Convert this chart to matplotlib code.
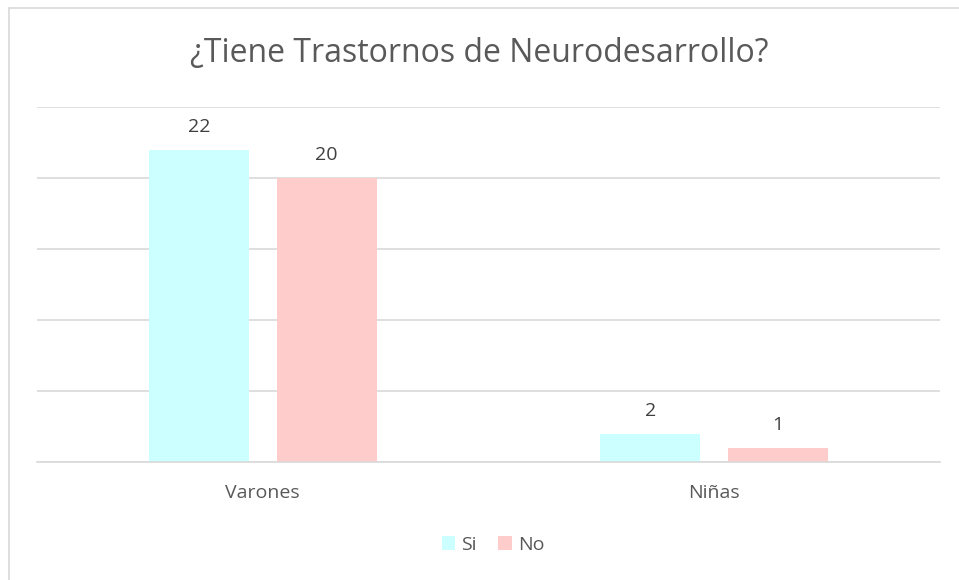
import matplotlib.pyplot as plt
import numpy as np
from matplotlib.lines import Line2D

categories = ["Varones", "Niñas"]
si_values = [22, 2]
no_values = [20, 1]
series_names = ["Si", "No"]
colors = ["#CCFFFF", "#FFCCCC"]

plt.rcParams['font.family'] = ['Open Sans', 'DejaVu Sans']

fig = plt.figure(figsize=(9.59, 5.80), dpi=100)
ax = fig.add_axes([37 / 959, 1 - 462 / 580, (940 - 37) / 959, (462 - 107) / 580])

x = np.arange(len(categories))
width = 0.2215
offset = 0.1417

bars_si = ax.bar(x - offset, si_values, width, color=colors[0], label=series_names[0], zorder=2)
bars_no = ax.bar(x + offset, no_values, width, color=colors[1], label=series_names[1], zorder=2)

for bars in (bars_si, bars_no):
    for b in bars:
        ax.annotate(f"{int(b.get_height())}", (b.get_x() + b.get_width() / 2, b.get_height()),
                    xytext=(0, 10), textcoords="offset points", ha="center", va="bottom",
                    fontsize=14, color="#404040")

ax.set_xlim(-0.5, 1.5)
ax.set_ylim(0, 25)
ax.set_yticks(np.arange(0, 26, 5))
ax.set_yticklabels([])
ax.yaxis.grid(True, color="#D9D9D9", linewidth=1.2, zorder=0)
ax.tick_params(axis="y", length=0)
ax.tick_params(axis="x", length=0, pad=16, labelsize=14, labelcolor="#595959")
ax.set_xticks(x)
ax.set_xticklabels(categories)
for s in ["top", "right", "left"]:
    ax.spines[s].set_visible(False)
ax.spines["bottom"].set_color("#D9D9D9")
ax.spines["bottom"].set_linewidth(1.2)

fig.text(0.5, 1 - 53 / 580, "¿Tiene Trastornos de Neurodesarrollo?", ha="center", va="center",
         fontsize=23, color="#595959")

leg = fig.legend(handles=[bars_si, bars_no], labels=series_names, loc="center",
                 bbox_to_anchor=(493 / 959, 1 - 545 / 580), ncol=2, frameon=False,
                 fontsize=14, handlelength=0.7, handleheight=0.7, handletextpad=0.3,
                 columnspacing=1.1, labelcolor="#595959")

# chart border (top and left edges visible)
fig.add_artist(Line2D([8.5 / 959, 8.5 / 959], [0, 1 - 7.5 / 580], transform=fig.transFigure,
                      color="#D9D9D9", linewidth=1.2))
fig.add_artist(Line2D([8.5 / 959, 1], [1 - 7.5 / 580, 1 - 7.5 / 580], transform=fig.transFigure,
                      color="#D9D9D9", linewidth=1.2))

fig.savefig("out.png", dpi=100, facecolor="white")
